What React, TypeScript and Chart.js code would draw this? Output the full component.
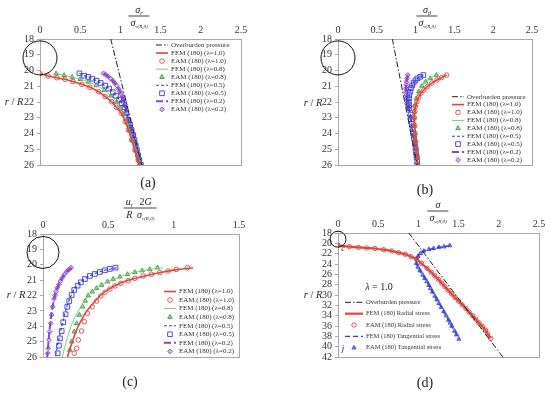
import React, { useEffect, useRef } from 'react';
import { Chart, registerables } from 'chart.js';

Chart.register(...registerables);

const SERIF = "'Liberation Serif', 'DejaVu Serif', serif";

const RED = '#e0443e';
const GREEN_LINE = '#80c880';
const GREEN = '#3a9a3a';
const BLUE = '#3a3adc';
const PURPLE = '#8a45c8';
const BLACK = '#222';

const LAMBDAS = ['1.0', '0.8', '0.5', '0.2'];

// ---------- Panel (a): radial stress ----------
const A_OB_R = [18, 26];
const A_OB_X = [0.88, 1.265];
const A_L10_R = [20.2, 20.35, 20.46, 20.56, 20.7, 20.88, 21.07, 21.35, 21.66, 21.98, 22.34, 22.7, 23.25, 23.78, 24.41, 25.05, 25.68, 26.0];
const A_L10_X = [0.0, 0.10, 0.21, 0.31, 0.41, 0.52, 0.62, 0.73, 0.81, 0.89, 0.95, 1.01, 1.06, 1.10, 1.14, 1.18, 1.22, 1.24];
const A_L08_R = [20.2, 20.3, 20.42, 20.55, 20.72, 20.95, 21.25, 21.6, 22.0, 22.4, 22.8, 23.3, 23.8, 24.4, 25.0, 25.6, 26.0];
const A_L08_X = [0.2, 0.3, 0.4, 0.5, 0.6, 0.7, 0.8, 0.88, 0.95, 1.0, 1.04, 1.08, 1.11, 1.15, 1.19, 1.23, 1.25];
const A_L05_R = [20.18, 20.33, 20.41, 20.52, 20.65, 20.79, 20.96, 21.15, 21.37, 21.6, 21.85, 22.08, 22.34, 22.7, 23.14, 23.45, 23.78, 24.1, 24.41, 24.75, 25.05, 25.38, 25.68, 26.0];
const A_L05_X = [0.49, 0.55, 0.60, 0.65, 0.705, 0.755, 0.81, 0.86, 0.905, 0.945, 0.985, 1.015, 1.05, 1.075, 1.10, 1.12, 1.14, 1.16, 1.175, 1.19, 1.205, 1.22, 1.235, 1.255];
const A_L02_R = [20.18, 20.28, 20.39, 20.52, 20.65, 20.8, 20.96, 21.15, 21.34, 21.5, 21.66, 21.82, 21.98, 22.15, 22.3, 22.7, 23.14, 23.45, 23.78, 24.1, 24.41, 24.75, 25.05, 25.38, 25.68, 26.0];
const A_L02_X = [0.79, 0.82, 0.85, 0.88, 0.905, 0.93, 0.955, 0.975, 0.995, 1.01, 1.025, 1.038, 1.05, 1.058, 1.065, 1.08, 1.10, 1.12, 1.135, 1.155, 1.17, 1.19, 1.205, 1.22, 1.235, 1.255];

// ---------- Panel (b): tangential stress ----------
const B_OB_R = [18, 26];
const B_OB_X = [0.70, 1.02];
const B_L10_R = [20.29, 20.45, 20.6, 20.8, 21.03, 21.25, 21.45, 21.7, 21.98, 22.3, 22.61, 23.0, 23.5, 24.0, 24.5, 25.0, 25.5, 26.0];
const B_L10_X = [1.40, 1.335, 1.275, 1.21, 1.15, 1.105, 1.067, 1.04, 1.017, 1.0, 0.99, 0.985, 0.99, 0.995, 1.0, 1.01, 1.02, 1.03];
const B_L08_R = [20.29, 20.5, 20.71, 20.98, 21.34, 21.77, 22.19, 22.6, 23.0, 23.5, 24.0, 24.5, 25.0, 25.5, 26.0];
const B_L08_X = [1.267, 1.19, 1.13, 1.08, 1.04, 1.008, 0.99, 0.98, 0.978, 0.983, 0.99, 0.997, 1.006, 1.016, 1.027];
const B_L05_R = [20.29, 20.4, 20.5, 20.63, 20.77, 20.95, 21.13, 21.35, 21.56, 21.77, 21.98, 22.2, 22.4, 22.8, 23.1, 23.4, 23.7, 24.0, 24.3, 24.6, 24.9, 25.2, 25.5, 25.8];
const B_L05_X = [1.10, 1.06, 1.025, 0.998, 0.975, 0.955, 0.94, 0.928, 0.92, 0.915, 0.913, 0.915, 0.92, 0.935, 0.942, 0.95, 0.96, 0.97, 0.98, 0.99, 0.998, 1.005, 1.012, 1.02];
const B_L02_R = [20.29, 20.5, 20.71, 20.92, 21.13, 21.35, 21.56, 21.77, 21.98, 22.2, 22.4, 22.93, 23.5, 24.1, 24.7, 25.3, 25.9];
const B_L02_X = [0.90, 0.89, 0.883, 0.878, 0.875, 0.877, 0.88, 0.885, 0.89, 0.90, 0.91, 0.933, 0.95, 0.97, 0.99, 1.005, 1.02];

// ---------- Panel (c): displacement ----------
const C_E10_R = [20.19, 20.3, 20.41, 20.51, 20.62, 20.73, 20.88, 21.04, 21.21, 21.38, 21.58, 21.79, 22.03, 22.36, 22.73, 23.16, 23.7, 24.31, 24.89, 25.44, 25.76];
const C_E10_X = [1.105, 1.02, 0.957, 0.894, 0.83, 0.766, 0.703, 0.652, 0.596, 0.55, 0.512, 0.474, 0.443, 0.41, 0.377, 0.341, 0.316, 0.295, 0.27, 0.257, 0.239];
const C_F10_R = [20.2, 20.3, 20.45, 20.65, 20.9, 21.2, 21.6, 22.0, 22.5, 23.0, 23.5, 24.0, 24.5, 25.0, 25.5, 26.0];
const C_F10_X = [1.148, 1.04, 0.93, 0.82, 0.70, 0.59, 0.50, 0.44, 0.385, 0.335, 0.30, 0.27, 0.245, 0.225, 0.205, 0.188];
const C_E08_R = [20.19, 20.3, 20.38, 20.49, 20.62, 20.78, 20.93, 21.1, 21.32, 21.53, 21.75, 22.01, 22.35, 22.73, 23.27, 23.81, 24.35, 25.0, 25.54];
const C_E08_X = [0.876, 0.817, 0.759, 0.703, 0.647, 0.588, 0.537, 0.494, 0.448, 0.41, 0.377, 0.346, 0.323, 0.303, 0.278, 0.257, 0.239, 0.219, 0.206];
const C_F08_R = [20.2, 20.35, 20.55, 20.8, 21.1, 21.5, 22.0, 22.5, 23.0, 23.5, 24.0, 24.5, 25.0, 25.5, 26.0];
const C_F08_X = [0.92, 0.78, 0.67, 0.58, 0.495, 0.415, 0.35, 0.305, 0.27, 0.24, 0.215, 0.195, 0.178, 0.162, 0.148];
const C_E05_R = [20.19, 20.27, 20.36, 20.47, 20.6, 20.73, 20.93, 21.14, 21.36, 21.64, 21.97, 22.36, 22.73, 23.22, 23.74, 24.31, 24.79, 25.26, 25.76];
const C_E05_X = [0.555, 0.512, 0.474, 0.435, 0.397, 0.359, 0.321, 0.29, 0.265, 0.239, 0.219, 0.201, 0.186, 0.173, 0.155, 0.143, 0.13, 0.122, 0.112];
const C_F05_R = [20.2, 20.4, 20.7, 21.1, 21.6, 22.2, 22.8, 23.5, 24.2, 25.0, 25.6, 26.0];
const C_F05_X = [0.565, 0.455, 0.365, 0.29, 0.238, 0.205, 0.18, 0.158, 0.138, 0.118, 0.104, 0.095];
const C_E02_R = [20.19, 20.32, 20.45, 20.64, 20.84, 21.05, 21.27, 21.5, 21.75, 22.0, 22.23, 22.73, 23.27, 23.81, 24.35, 24.89, 25.44, 25.76];
const C_E02_X = [0.214, 0.197, 0.181, 0.163, 0.148, 0.134, 0.122, 0.11, 0.099, 0.091, 0.084, 0.074, 0.066, 0.059, 0.051, 0.046, 0.041, 0.036];
const C_F02_R = [20.2, 20.45, 20.85, 21.3, 21.8, 22.3, 23.0, 23.8, 24.6, 25.4, 26.0];
const C_F02_X = [0.218, 0.181, 0.147, 0.12, 0.098, 0.083, 0.068, 0.056, 0.046, 0.038, 0.032];

// ---------- Panel (d): lambda = 1.0, deep profile ----------
const D_OB_R = [18, 42];
const D_OB_X = [0.88, 2.05];
const D_RAD_R = [20.35, 20.65, 20.77, 20.9, 21.0, 21.23, 21.48, 21.81, 22.13, 22.58, 23.03, 23.9, 24.84, 25.6, 26.3, 27.0, 27.7, 28.4, 29.1, 29.8, 30.5, 31.2, 31.9, 32.6, 33.3, 34.0, 34.7, 35.4, 36.1, 36.8, 37.5, 38.39];
const D_RAD_X = [0.0, 0.142, 0.254, 0.358, 0.46, 0.567, 0.671, 0.754, 0.838, 0.908, 0.975, 1.04, 1.108, 1.16, 1.205, 1.25, 1.29, 1.33, 1.37, 1.415, 1.455, 1.5, 1.545, 1.59, 1.63, 1.675, 1.715, 1.755, 1.795, 1.835, 1.86, 1.9];
const D_TAN_R = [20.45, 20.65, 20.77, 20.97, 21.16, 21.48, 21.94, 22.5, 23.03, 23.87, 24.6, 25.3, 26.13, 26.8, 27.4, 28.1, 28.71, 29.4, 30.2, 30.9, 31.61, 32.4, 33.2, 34.0, 34.84, 35.4, 36.0, 36.97, 37.7, 38.52];
const D_TAN_X = [1.39, 1.317, 1.254, 1.19, 1.13, 1.067, 1.025, 0.995, 0.978, 0.975, 0.995, 1.02, 1.055, 1.08, 1.105, 1.13, 1.15, 1.175, 1.205, 1.23, 1.255, 1.285, 1.315, 1.345, 1.375, 1.395, 1.415, 1.45, 1.475, 1.504];

// Tunnel circles (centre depth, r/R)
const TUNNEL_X = [0];
const TUNNEL_R = [19.2];

const pts = (xs: number[], ys: number[]) => xs.map((x, i) => ({ x, y: ys[i] }));

const lineDs = (label: string, xs: number[], ys: number[], color: string, width: number, dash: number[] = []) => ({
  label, data: pts(xs, ys), showLine: true, borderColor: color, borderWidth: width, borderDash: dash,
  pointRadius: 0, fill: false, tension: 0.25,
});

const markDs = (label: string, xs: number[], ys: number[], style: string, stroke: string, fillC: string, r: number, bw = 0.9) => ({
  label, data: pts(xs, ys), showLine: false, pointStyle: style, pointRadius: r,
  pointBorderColor: stroke, pointBackgroundColor: fillC, pointBorderWidth: bw,
});

const tunnelDs = (r: number) => ({
  label: '', data: pts(TUNNEL_X, TUNNEL_R), showLine: false, pointStyle: 'circle', pointRadius: r,
  pointBorderColor: '#111', pointBackgroundColor: 'rgba(0,0,0,0)', pointBorderWidth: 1, clip: false,
});

const OB_DASH = [6, 2, 1.5, 2];

function lambdaSets(
  l10r: number[], l10x: number[], e10r: number[], e10x: number[],
  l08r: number[], l08x: number[], e08r: number[], e08x: number[],
  l05r: number[], l05x: number[], e05r: number[], e05x: number[],
  l02r: number[], l02x: number[], e02r: number[], e02x: number[],
) {
  return [
    lineDs(`FEM (180) (λ=${LAMBDAS[0]})`, l10x, l10r, RED, 1.6),
    markDs(`EAM (180) (λ=${LAMBDAS[0]})`, e10x, e10r, 'circle', RED, 'rgba(255,255,255,0)', 2.3),
    lineDs(`FEM (180) (λ=${LAMBDAS[1]})`, l08x, l08r, GREEN_LINE, 1),
    markDs(`EAM (180) (λ=${LAMBDAS[1]})`, e08x, e08r, 'triangle', GREEN, 'rgba(90,175,90,0.55)', 2.6),
    lineDs(`FEM (180) (λ=${LAMBDAS[2]})`, l05x, l05r, BLUE, 1.1, [3, 2]),
    markDs(`EAM (180) (λ=${LAMBDAS[2]})`, e05x, e05r, 'rect', BLUE, 'rgba(255,255,255,0)', 3.3),
    lineDs(`FEM (180) (λ=${LAMBDAS[3]})`, l02x, l02r, PURPLE, 2, [7, 3]),
    markDs(`EAM (180) (λ=${LAMBDAS[3]})`, e02x, e02r, 'rectRot', PURPLE, 'rgba(175,130,225,0.55)', 2.4),
  ];
}

function drawMarker(ctx: CanvasRenderingContext2D, style: string, x: number, y: number, r: number, fillC: string, stroke: string, lw: number) {
  ctx.save();
  ctx.beginPath();
  if (style === 'triangle') {
    const h = r * 1.5;
    ctx.moveTo(x, y - r);
    ctx.lineTo(x + h / Math.sqrt(3), y + r / 2);
    ctx.lineTo(x - h / Math.sqrt(3), y + r / 2);
    ctx.closePath();
  } else if (style === 'rect') {
    const s = r * Math.SQRT1_2;
    ctx.rect(x - s, y - s, 2 * s, 2 * s);
  } else if (style === 'rectRot') {
    ctx.moveTo(x, y - r); ctx.lineTo(x + r, y); ctx.lineTo(x, y + r); ctx.lineTo(x - r, y); ctx.closePath();
  } else {
    ctx.arc(x, y, r, 0, Math.PI * 2);
  }
  if (fillC) { ctx.fillStyle = fillC; ctx.fill(); }
  ctx.lineWidth = lw; ctx.strokeStyle = stroke; ctx.stroke();
  ctx.restore();
}

type LegendCfg = { x: number; y: number; row: number; symW: number; gap: number; size: number; items: number[] };

function framePlugin(leg: LegendCfg) {
  return {
    id: 'frameLegend',
    beforeDatasetsDraw(chart: any) {
      const { ctx, chartArea: a } = chart;
      ctx.save();
      ctx.strokeStyle = '#a8a8a8';
      ctx.lineWidth = 1;
      ctx.strokeRect(Math.round(a.left) + 0.5, Math.round(a.top) + 0.5, Math.round(a.right - a.left), Math.round(a.bottom - a.top));
      ctx.restore();
    },
    afterDatasetsDraw(chart: any) {
      const ctx: CanvasRenderingContext2D = chart.ctx;
      ctx.save();
      ctx.font = `${leg.size}px ${SERIF}`;
      ctx.textBaseline = 'middle';
      ctx.fillStyle = '#333';
      leg.items.forEach((di, i) => {
        const ds: any = chart.data.datasets[di];
        const y = leg.y + i * leg.row;
        const x0 = leg.x, x1 = leg.x + leg.symW;
        if (ds.showLine) {
          ctx.save();
          ctx.beginPath();
          ctx.setLineDash(ds.borderDash || []);
          ctx.strokeStyle = ds.borderColor;
          ctx.lineWidth = ds.borderWidth;
          ctx.moveTo(x0, y); ctx.lineTo(x1, y);
          ctx.stroke();
          ctx.restore();
        } else {
          drawMarker(ctx, ds.pointStyle, (x0 + x1) / 2, y, ds.pointRadius, ds.pointBackgroundColor, ds.pointBorderColor, ds.pointBorderWidth);
        }
        ctx.fillText(ds.label, x1 + leg.gap, y);
      });
      ctx.restore();
    },
  };
}

type PanelCfg = {
  w: number; h: number; xMax: number; xStep: number; yMin: number; yMax: number; yStep: number;
  leftW: number; topH: number; padR: number; padB: number; datasets: any[]; legend: LegendCfg;
};

const fmt = (v: any) => String(Math.round(Number(v) * 100) / 100);

function PanelChart({ cfg, left, top }: { cfg: PanelCfg; left: number; top: number }) {
  const ref = useRef<HTMLCanvasElement>(null);
  useEffect(() => {
    if (!ref.current) return;
    const tickFont = { family: SERIF, size: 10 };
    const chart = new Chart(ref.current, {
      type: 'scatter',
      data: { datasets: cfg.datasets },
      options: {
        responsive: false,
        animation: false,
        events: [],
        layout: { padding: { left: 0, top: 0, right: cfg.padR, bottom: cfg.padB } },
        plugins: { legend: { display: false }, tooltip: { enabled: false }, title: { display: false } },
        scales: {
          x: {
            type: 'linear', position: 'top', min: 0, max: cfg.xMax,
            ticks: { stepSize: cfg.xStep, font: tickFont, color: '#333', padding: 3, maxRotation: 0, autoSkip: false, callback: fmt },
            grid: { display: false, drawTicks: false },
            border: { display: false },
            afterFit: (s: any) => { s.height = cfg.topH; },
          },
          y: {
            type: 'linear', reverse: true, min: cfg.yMin, max: cfg.yMax,
            ticks: { stepSize: cfg.yStep, font: tickFont, color: '#333', padding: 3, autoSkip: false, callback: fmt },
            grid: { display: true, drawOnChartArea: false, drawTicks: true, tickLength: 3, color: '#a8a8a8' },
            border: { display: false },
            afterFit: (s: any) => { s.width = cfg.leftW; },
          },
        },
      } as any,
      plugins: [framePlugin(cfg.legend)],
    });
    return () => chart.destroy();
  }, []);
  return (
    <canvas ref={ref} width={cfg.w} height={cfg.h}
      style={{ position: 'absolute', left, top, width: cfg.w, height: cfg.h }} />
  );
}

const Sig = ({ sub, subSize = 6 }: { sub?: string; subSize?: number }) => (
  <span style={{ whiteSpace: 'nowrap' }}>
    <i>σ</i>
    {sub ? <span style={{ fontSize: subSize, position: 'relative', top: 2, fontStyle: 'italic' }}>{sub}</span> : null}
  </span>
);

const Frac = ({ num, den }: { num: React.ReactNode; den: React.ReactNode }) => (
  <div style={{ display: 'inline-flex', flexDirection: 'column', alignItems: 'center', lineHeight: 1, verticalAlign: 'middle' }}>
    <div style={{ padding: '0 2px 1px' }}>{num}</div>
    <div style={{ borderTop: '1px solid #444', padding: '1px 2px 0', alignSelf: 'stretch', textAlign: 'center' }}>{den}</div>
  </div>
);

const At = ({ x, y, children, size = 10 }: { x: number; y: number; children: React.ReactNode; size?: number }) => (
  <div style={{ position: 'absolute', left: x, top: y, transform: 'translate(-50%, -50%)', fontFamily: SERIF, fontSize: size, color: '#222', whiteSpace: 'nowrap', lineHeight: 1 }}>
    {children}
  </div>
);

const RR = () => (<span><i>r</i> / <i>R</i></span>);
const DEN = () => <Sig sub="v(R,θ)" subSize={5} />;

export default function App() {
  const panelA: PanelCfg = {
    w: 275, h: 195, xMax: 2.5, xStep: 0.5, yMin: 18, yMax: 26, yStep: 1,
    leftW: 40, topH: 39, padR: 34, padB: 30,
    datasets: [
      tunnelDs(17),
      lineDs('Overburden pressure', A_OB_X, A_OB_R, BLACK, 1, OB_DASH),
      ...lambdaSets(A_L10_R, A_L10_X, A_L10_R, A_L10_X, A_L08_R, A_L08_X, A_L08_R, A_L08_X,
        A_L05_R, A_L05_X, A_L05_R, A_L05_X, A_L02_R, A_L02_X, A_L02_R, A_L02_X),
    ],
    legend: { x: 156, y: 45, row: 8.05, symW: 12, gap: 3, size: 7, items: [1, 2, 3, 4, 5, 6, 7, 8, 9] },
  };
  const panelB: PanelCfg = {
    w: 275, h: 195, xMax: 2.5, xStep: 0.5, yMin: 18, yMax: 26, yStep: 1,
    leftW: 63, topH: 39, padR: 11, padB: 30,
    datasets: [
      tunnelDs(17),
      lineDs('Overburden pressure', B_OB_X, B_OB_R, BLACK, 1, OB_DASH),
      ...lambdaSets(B_L10_R, B_L10_X, B_L10_R, B_L10_X, B_L08_R, B_L08_X, B_L08_R, B_L08_X,
        B_L05_R, B_L05_X, B_L05_R, B_L05_X, B_L02_R, B_L02_X, B_L02_R, B_L02_X),
    ],
    legend: { x: 177, y: 96.7, row: 7.9, symW: 12, gap: 3, size: 7, items: [1, 2, 3, 4, 5, 6, 7, 8, 9] },
  };
  const panelC: PanelCfg = {
    w: 275, h: 199, xMax: 1.5, xStep: 0.5, yMin: 18, yMax: 26, yStep: 1,
    leftW: 43, topH: 39, padR: 36, padB: 37,
    datasets: [
      tunnelDs(16),
      ...lambdaSets(C_F10_R, C_F10_X, C_E10_R, C_E10_X, C_F08_R, C_F08_X, C_E08_R, C_E08_X,
        C_F05_R, C_F05_X, C_E05_R, C_E05_X, C_F02_R, C_F02_X, C_E02_R, C_E02_X),
    ],
    legend: { x: 164, y: 96.5, row: 8.55, symW: 12, gap: 3, size: 7, items: [1, 2, 3, 4, 5, 6, 7, 8] },
  };
  const panelD: PanelCfg = {
    w: 275, h: 199, xMax: 2.5, xStep: 0.5, yMin: 18, yMax: 42, yStep: 2,
    leftW: 63, topH: 38, padR: 11, padB: 37,
    datasets: [
      tunnelDs(8),
      lineDs('Overburden pressure', D_OB_X, D_OB_R, BLACK, 1, OB_DASH),
      lineDs('FEM (180) Radial stress', D_RAD_X, D_RAD_R, RED, 2.2),
      markDs('EAM (180) Radial stress', D_RAD_X, D_RAD_R, 'circle', RED, 'rgba(255,255,255,0)', 2.2),
      lineDs('FEM (180) Tangential stress', D_TAN_X, D_TAN_R, BLUE, 1.4, [5, 3]),
      markDs('EAM (180) Tangential stress', D_TAN_X, D_TAN_R, 'triangle', '#3c4ce0', 'rgba(80,100,240,0.75)', 2.4),
    ],
    legend: { x: 70, y: 107.3, row: 11.35, symW: 18, gap: 3, size: 6.5, items: [1, 2, 3, 4, 5] },
  };

  return (
    <div style={{ position: 'absolute', left: 0, top: 0, width: 550, height: 394, background: '#fff', overflow: 'hidden' }}>
      <PanelChart cfg={panelA} left={0} top={0} />
      <PanelChart cfg={panelB} left={275} top={0} />
      <PanelChart cfg={panelC} left={0} top={195} />
      <PanelChart cfg={panelD} left={275} top={195} />

      <At x={139} y={16} size={10}><Frac num={<Sig sub="r" />} den={<DEN />} /></At>
      <At x={427} y={16} size={10}><Frac num={<Sig sub="θ" />} den={<DEN />} /></At>
      <At x={140} y={208} size={10}>
        <Frac num={<span><i>u</i><span style={{ fontSize: 6, position: 'relative', top: 2 }}><i>r</i></span></span>} den={<i>R</i>} />
        <Frac num={<span>2<i>G</i></span>} den={<DEN />} />
      </At>
      <At x={438} y={211} size={10}><Frac num={<i>σ</i>} den={<DEN />} /></At>

      <At x={14} y={102} size={10.5}><RR /></At>
      <At x={313} y={103} size={10.5}><RR /></At>
      <At x={16} y={295} size={10.5}><RR /></At>
      <At x={313} y={295} size={10.5}><RR /></At>

      <At x={148} y={183} size={14}>(a)</At>
      <At x={425} y={190} size={14}>(b)</At>
      <At x={130} y={382} size={14}>(c)</At>
      <At x={425} y={383} size={14}>(d)</At>

      <At x={379} y={287} size={10}><i>λ</i> = 1.0</At>
      <At x={343} y={249} size={8}><i>c</i></At>
      <At x={343} y={348} size={9}><i>j</i></At>
    </div>
  );
}
